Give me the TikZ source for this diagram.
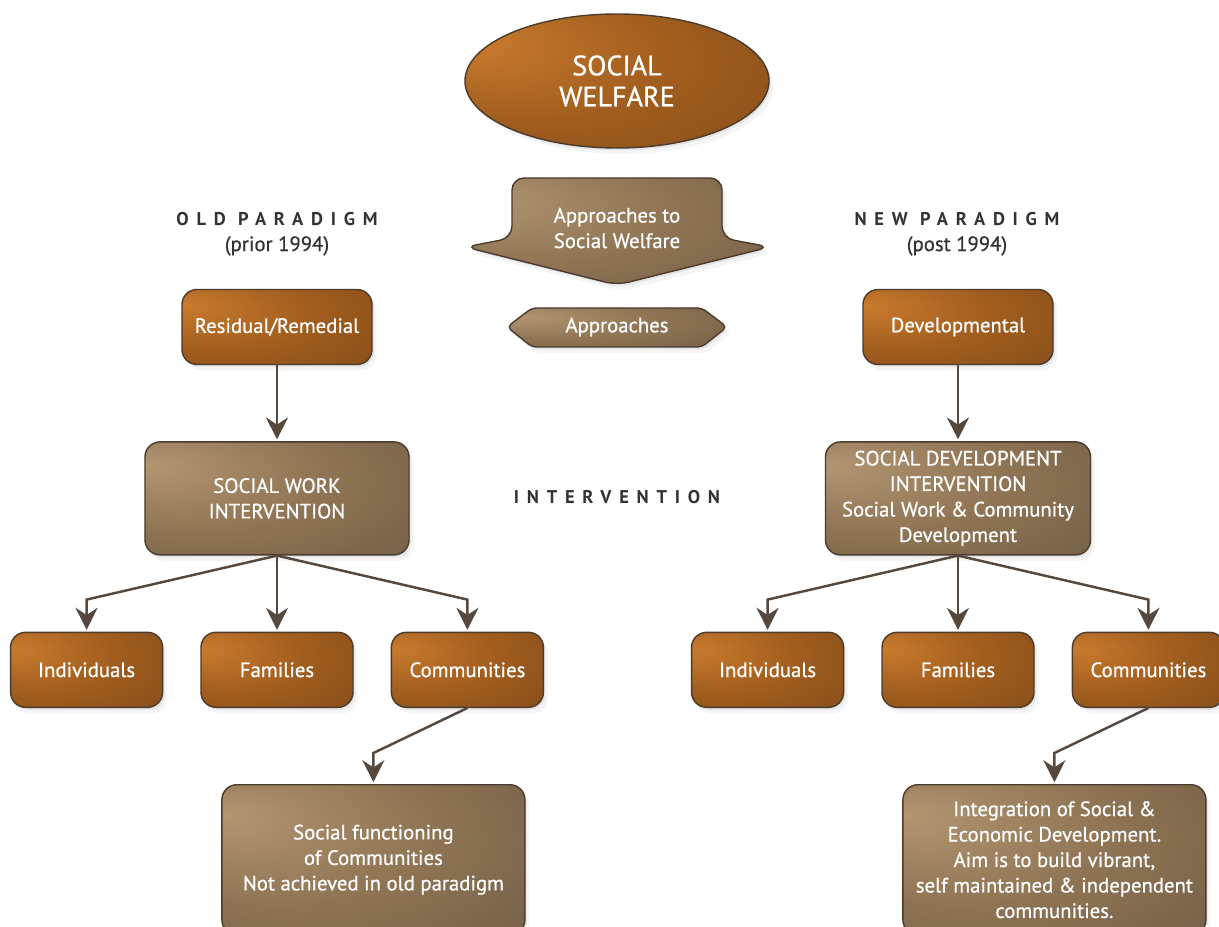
\documentclass[tikz,border=0pt]{standalone}
\usepackage{fontspec}
\setmainfont[FakeBold=0.7]{PT Sans}
\newfontfamily\headfont[LetterSpace=42]{PT Sans}
\usepackage{xcolor}
\usepackage{tikz}
\usetikzlibrary{positioning, shapes.geometric, arrows.meta, shadows}
\definecolor{orhi}{HTML}{C97B2D}
\definecolor{ormid}{HTML}{A05D1E}
\definecolor{orlo}{HTML}{724216}
\definecolor{tanhi}{HTML}{B39571}
\definecolor{tanmid}{HTML}{8E7454}
\definecolor{tanlo}{HTML}{5C4D3C}
\definecolor{diagline}{HTML}{4B3B2C}
\definecolor{arrline}{HTML}{56483D}
\definecolor{headtext}{HTML}{333333}
\pgfdeclareradialshading{orglow}{\pgfpoint{-25bp}{15bp}}{color(0bp)=(orhi); color(25bp)=(ormid); color(65bp)=(orlo)}
\pgfdeclareradialshading{tanglow}{\pgfpoint{-25bp}{15bp}}{color(0bp)=(tanhi); color(25bp)=(tanmid); color(65bp)=(tanlo)}

\begin{document}
\begin{tikzpicture}[x=0.2mm, y=-0.2mm, font=\fontsize{11.8}{14.5}\selectfont,
  shd/.style={drop shadow={opacity=.13, shadow xshift=.4mm, shadow yshift=-.5mm},
    drop shadow={opacity=.08, shadow xshift=.9mm, shadow yshift=-1.2mm}},
  nd/.style={draw=diagline, line width=.8pt, rounded corners=3mm, text=white, align=center, shd},
  orbox/.style={nd, shading=orglow, minimum width=30.4mm, minimum height=15mm},
  tanbox/.style={nd, shading=tanglow},
  hd/.style={text=headtext, align=center},
  arr/.style={-{Stealth[length=4.4mm,width=4.4mm]}, shorten >=1pt, line width=1.4pt, arrline}]

\useasboundingbox (0,0) rectangle (1219,927);

\node[nd, ellipse, rounded corners=0pt, shading=orglow, minimum width=60.8mm, minimum height=26.8mm, font=\fontsize{16}{17.6}\selectfont](sw) at (617,81) {SOCIAL\\WELFARE};

\path[draw=diagline, line width=.8pt, shading=tanglow, shd, rounded corners=2.4mm] (465,247) -- (512,238) -- (512,178) -- (722,178) -- (722,238) -- (770,247) -- (617,285) -- cycle;
\node[text=white, align=center](aps) at (617,228) {Approaches to\\Social Welfare};
\path[draw=diagline, line width=.8pt, shading=tanglow, shd, rounded corners=1mm] (507,327) -- (532,308) -- (702,308) -- (727,327) -- (702,347) -- (532,347) -- cycle;
\node[text=white](apr) at (617,327) {Approaches};

\node[hd](old) at (277,234) {{\headfont\bfseries\fontsize{10.5}{14.5}\selectfont OLD PARADIGM}\\(prior 1994)};
\node[hd](new) at (957,234) {{\headfont\bfseries\fontsize{10.5}{14.5}\selectfont NEW PARADIGM}\\(post 1994)};
\node[hd, font=\headfont\bfseries\fontsize{10.5}{14.5}\selectfont](itv) at (617,497) {INTERVENTION};

\node[orbox, minimum width=38mm](resid) at (277,327) {Residual/Remedial};
\node[orbox, minimum width=38mm](devel) at (958,327) {Developmental};
\node[tanbox, minimum width=52.8mm, minimum height=22.6mm, below=15.2mm of resid](swi) {SOCIAL WORK\\INTERVENTION};
\node[tanbox, minimum width=53mm, minimum height=22.6mm, below=15.2mm of devel](sdi) {SOCIAL DEVELOPMENT\\INTERVENTION\\Social Work \& Community\\Development};

\node[orbox, below=15.2mm of swi](fam1) {Families};
\node[orbox, left=7.4mm of fam1](ind1) {Individuals};
\node[orbox, right=7.4mm of fam1](com1) {Communities};
\node[orbox, below=15.2mm of sdi](fam2) {Families};
\node[orbox, left=7.4mm of fam2](ind2) {Individuals};
\node[orbox, right=7.4mm of fam2](com2) {Communities};

\node[tanbox, minimum width=60.6mm, minimum height=30mm, below=15.2mm of com1, xshift=-18.8mm](sfc) {Social functioning\\of Communities\\Not achieved in old paradigm};
\node[tanbox, minimum width=60.6mm, minimum height=30mm, below=15.2mm of com2, xshift=-18.8mm](ise) {Integration of Social \&\\Economic Development.\\Aim is to build vibrant,\\self maintained \& independent\\communities.};

\draw[arr](resid)--(swi);
\draw[arr](devel)--(sdi);
\coordinate[below=8.8mm of swi.south](kl);
\coordinate[below=8.8mm of sdi.south](kr);
\draw[arr](swi.south)--(kl -| ind1)--(ind1);
\draw[arr](swi)--(fam1);
\draw[arr](swi.south)--(kl -| com1)--(com1);
\draw[arr](sdi.south)--(kr -| ind2)--(ind2);
\draw[arr](sdi)--(fam2);
\draw[arr](sdi.south)--(kr -| com2)--(com2);
\coordinate[below=9mm of com1.south](kc1);
\coordinate[below=9mm of com2.south](kc2);
\draw[arr](com1.south)--(kc1 -| sfc)--(sfc);
\draw[arr](com2.south)--(kc2 -| ise)--(ise);

\end{tikzpicture}
\end{document}
